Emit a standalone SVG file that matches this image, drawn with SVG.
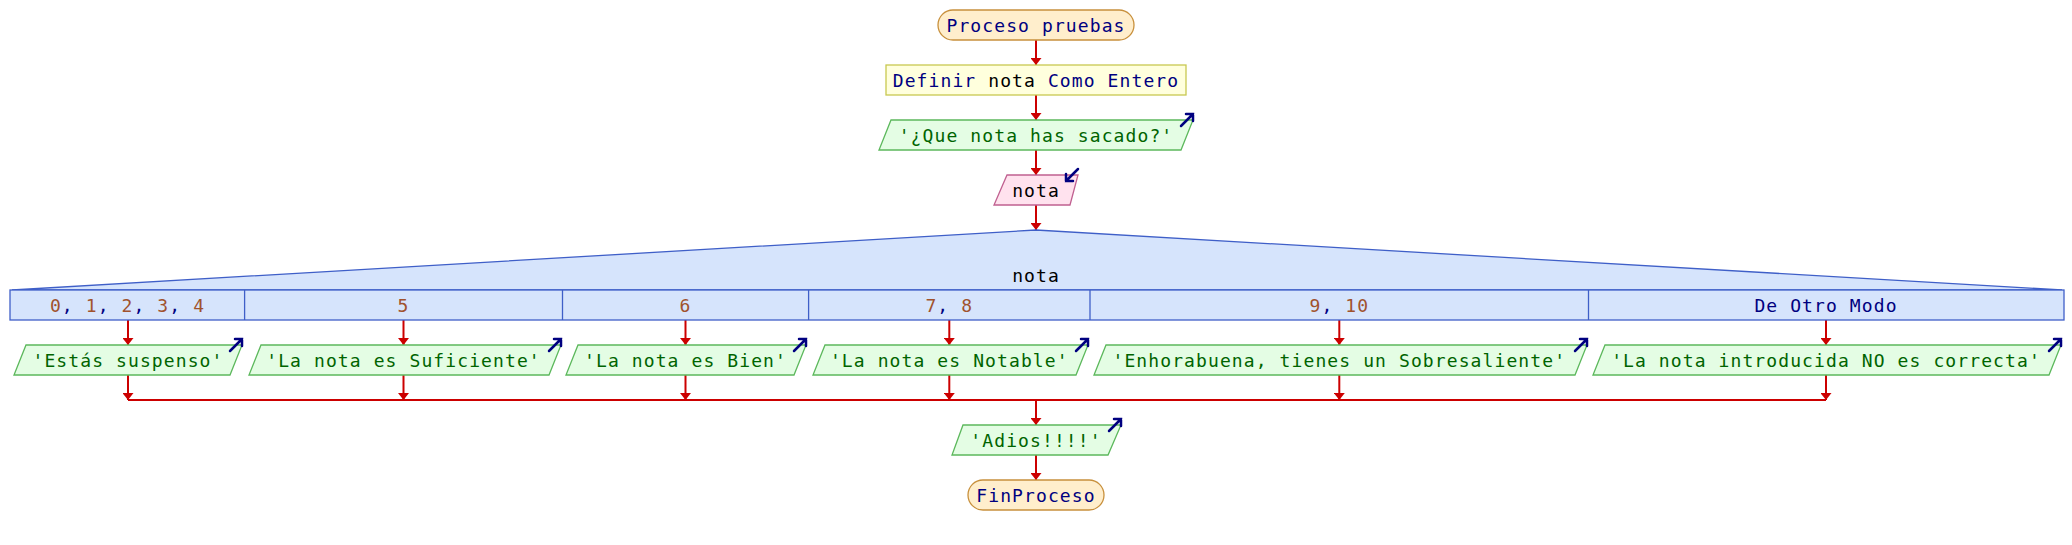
<svg xmlns="http://www.w3.org/2000/svg" width="2072" height="545" viewBox="0 0 2072 545">
<style>
text{font-family:"DejaVu Sans Mono","Liberation Mono",monospace;font-size:18px;letter-spacing:1.1px;text-anchor:middle}
.kw{fill:#000080}.str{fill:#006400}.var{fill:#000000}.num{fill:#a0522d}
.term{fill:#ffeecc;stroke:#c8903c;stroke-width:1.3}
.def{fill:#ffffdd;stroke:#c8c850;stroke-width:1.3}
.out{fill:#e4fde4;stroke:#5cb85c;stroke-width:1.3}
.inp{fill:#ffe2ee;stroke:#c06090;stroke-width:1.3}
.sw{fill:#d6e4fc;stroke:#3f5fc8;stroke-width:1.3}
.con{fill:none;stroke:#cc0000;stroke-width:2}
.arr{marker-end:url(#ah)}
.ico{fill:none;stroke:#000080;stroke-width:2.5;stroke-linecap:round}
</style>
<defs>
<marker id="ah" markerWidth="7" markerHeight="11" refX="7" refY="5.5" orient="auto" markerUnits="userSpaceOnUse">
<path d="M0,0 L7,5.5 L0,11 Z" fill="#cc0000"/>
</marker>
</defs>
<g id="connectors">
<path class="con arr" d="M1036,40 V65"/>
<path class="con arr" d="M1036,95 V120"/>
<path class="con arr" d="M1036,150 V175"/>
<path class="con arr" d="M1036,205 V230"/>
<path class="con arr" d="M128,320 V345"/>
<path class="con arr" d="M403.5,320 V345"/>
<path class="con arr" d="M685.5,320 V345"/>
<path class="con arr" d="M949.3,320 V345"/>
<path class="con arr" d="M1339.3,320 V345"/>
<path class="con arr" d="M1826,320 V345"/>
<path class="con arr" d="M128,375 V400"/>
<path class="con arr" d="M403.5,375 V400"/>
<path class="con arr" d="M685.5,375 V400"/>
<path class="con arr" d="M949.3,375 V400"/>
<path class="con arr" d="M1339.3,375 V400"/>
<path class="con arr" d="M1826,375 V400"/>
<path class="con" d="M128,400 H1826"/>
<path class="con arr" d="M1036,400 V425"/>
<path class="con arr" d="M1036,455 V480"/>
</g>
<g id="start">
<rect class="term" x="938" y="10" width="196" height="30" rx="15"/>
<text class="kw" x="1036" y="32">Proceso pruebas</text>
</g>
<g id="define">
<rect class="def" x="886" y="65" width="300" height="30"/>
<text x="1036" y="87"><tspan class="kw">Definir </tspan><tspan class="var">nota</tspan><tspan class="kw"> Como Entero</tspan></text>
</g>
<g id="out-question">
<polygon class="out" points="891,120 1193,120 1181,150 879,150"/>
<text class="str" x="1036" y="142">'¿Que nota has sacado?'</text>
<path class="ico" d="M1181,126 L1193,114 M1186,114 H1193 V121"/>
</g>
<g id="read-nota">
<polygon class="inp" points="1007,175 1078,175 1070,205 994,205"/>
<text class="var" x="1036" y="197">nota</text>
<path class="ico" d="M1078,169 L1066,181 M1066,174 V181 H1073"/>
</g>
<g id="switch">
<polygon class="sw" points="12,290 1036,230 2062,290"/>
<rect class="sw" x="10" y="290" width="2054" height="30"/>
<line x1="244.6" y1="290" x2="244.6" y2="320" stroke="#3f5fc8" stroke-width="1.3"/>
<line x1="562.5" y1="290" x2="562.5" y2="320" stroke="#3f5fc8" stroke-width="1.3"/>
<line x1="808.6" y1="290" x2="808.6" y2="320" stroke="#3f5fc8" stroke-width="1.3"/>
<line x1="1090" y1="290" x2="1090" y2="320" stroke="#3f5fc8" stroke-width="1.3"/>
<line x1="1588.5" y1="290" x2="1588.5" y2="320" stroke="#3f5fc8" stroke-width="1.3"/>
<text class="var" x="1036" y="282">nota</text>
<text x="127.5" y="312"><tspan class="num">0</tspan><tspan class="kw">, </tspan><tspan class="num">1</tspan><tspan class="kw">, </tspan><tspan class="num">2</tspan><tspan class="kw">, </tspan><tspan class="num">3</tspan><tspan class="kw">, </tspan><tspan class="num">4</tspan></text>
<text class="num" x="403.5" y="312">5</text>
<text class="num" x="685.5" y="312">6</text>
<text x="949.3" y="312"><tspan class="num">7</tspan><tspan class="kw">, </tspan><tspan class="num">8</tspan></text>
<text x="1339.3" y="312"><tspan class="num">9</tspan><tspan class="kw">, </tspan><tspan class="num">10</tspan></text>
<text class="kw" x="1826" y="312">De Otro Modo</text>
</g>
<g id="out-case1">
<polygon class="out" points="26,345 242,345 230,375 14,375"/>
<text class="str" x="128" y="367">'Estás suspenso'</text>
<path class="ico" d="M230,351 L242,339 M235,339 H242 V346"/>
</g>
<g id="out-case2">
<polygon class="out" points="261,345 561,345 549,375 249,375"/>
<text class="str" x="403.5" y="367">'La nota es Suficiente'</text>
<path class="ico" d="M549,351 L561,339 M554,339 H561 V346"/>
</g>
<g id="out-case3">
<polygon class="out" points="578,345 806,345 794,375 566,375"/>
<text class="str" x="685.5" y="367">'La nota es Bien'</text>
<path class="ico" d="M794,351 L806,339 M799,339 H806 V346"/>
</g>
<g id="out-case4">
<polygon class="out" points="825,345 1088,345 1076,375 813,375"/>
<text class="str" x="949.3" y="367">'La nota es Notable'</text>
<path class="ico" d="M1076,351 L1088,339 M1081,339 H1088 V346"/>
</g>
<g id="out-case5">
<polygon class="out" points="1106,345 1587,345 1575,375 1094,375"/>
<text class="str" x="1339.3" y="367">'Enhorabuena, tienes un Sobresaliente'</text>
<path class="ico" d="M1575,351 L1587,339 M1580,339 H1587 V346"/>
</g>
<g id="out-case6">
<polygon class="out" points="1605,345 2061,345 2049,375 1593,375"/>
<text class="str" x="1826" y="367">'La nota introducida NO es correcta'</text>
<path class="ico" d="M2049,351 L2061,339 M2054,339 H2061 V346"/>
</g>
<g id="out-adios">
<polygon class="out" points="963,425 1121,425 1108,455 952,455"/>
<text class="str" x="1036" y="447">'Adios!!!!'</text>
<path class="ico" d="M1109,431 L1121,419 M1114,419 H1121 V426"/>
</g>
<g id="end">
<rect class="term" x="968" y="480" width="136" height="30" rx="15"/>
<text class="kw" x="1036" y="502">FinProceso</text>
</g>
</svg>
